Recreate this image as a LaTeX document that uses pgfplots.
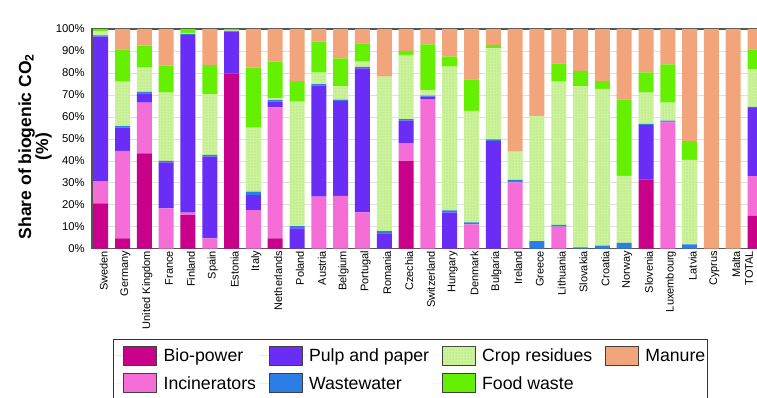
\documentclass[border=0pt]{standalone}
\usepackage{fontspec}
\setmainfont{Liberation Sans}
\usepackage{pgfplots}
\pgfplotsset{compat=1.18}
\usepackage{pgfplotstable}
\usetikzlibrary{patterns}

\pgfdeclarepatternformonly{smalldots}{\pgfqpoint{-1pt}{-1pt}}{\pgfqpoint{1pt}{1pt}}{\pgfqpoint{3pt}{3pt}}{\pgfpathcircle{\pgfqpoint{0pt}{0pt}}{0.5pt}\pgfusepath{fill}}

\definecolor{cbio}{RGB}{200,0,138}
\definecolor{cinc}{RGB}{245,110,215}
\definecolor{cpulp}{RGB}{105,45,245}
\definecolor{cww}{RGB}{45,125,230}
\definecolor{ccrop}{RGB}{204,243,155}
\definecolor{ccropdot}{RGB}{155,212,100}
\definecolor{cfood}{RGB}{100,240,0}
\definecolor{cman}{RGB}{242,165,122}
\definecolor{caxis}{RGB}{85,85,85}

\pgfplotstableread{
idx bio inc pulp ww crop food man
0 20.6 10.2 65.7 0.6 2.0 0.9 0
1 4.7 39.8 10.6 0.7 20.2 14.7 9.3
2 43.4 23.1 4.2 0.7 11.0 10.0 7.6
3 0 18.4 20.9 0.7 31.0 12.3 16.7
4 15.3 1.1 80.9 0.5 0.4 1.8 0
5 0 4.7 37.2 0.8 27.7 13.2 16.4
6 79.8 0 19.0 0.3 0.4 0.5 0
7 0 17.6 6.8 1.6 29.1 27.3 17.6
8 4.7 59.6 2.6 0.8 0.7 16.7 14.9
9 0 0 9.3 1.0 56.6 9.4 23.7
10 0 23.7 50.5 0.7 5.2 14.1 5.8
11 0 24.1 43.1 0.7 6.1 12.6 13.4
12 0 16.5 65.6 0.7 2.3 8.4 6.5
13 0 0 7.0 1.0 70.3 0 21.7
14 39.9 8.1 10.3 0.7 29.2 1.8 10.0
15 0 68.1 1.1 0.5 2.5 20.8 7.0
16 0 0 16.4 1.1 65.4 4.5 12.6
17 0 11.1 0 0.9 50.7 14.4 22.9
18 0 0 49.0 0.8 41.4 1.5 7.3
19 0 30.2 0 1.1 12.9 0 55.8
20 0 0 0 3.5 57.0 0 39.5
21 0 10.0 0 0.8 65.2 8.4 15.6
22 0 0 0 0.6 73.4 6.9 19.1
23 0 0 0 1.4 71.3 3.6 23.7
24 0 0 0 2.7 30.5 34.8 32.0
25 31.6 0 24.7 0.5 14.2 9.3 19.7
26 0 57.5 0.3 0.5 8.2 17.4 16.1
27 0 0 0 2.0 38.4 8.6 51.0
28 0 0 0 0 0 0 100
29 0 0 0 0 0 0 100
30 15.0 18.0 31.0 0.6 17.0 9.1 9.3
}\co

\begin{document}
\begin{tikzpicture}
\begin{axis}[
  ybar stacked,
  bar width=15pt,
  scale only axis,
  width=668.5pt, height=219.7pt,
  xmin=-0.4, xmax=30.25,
  ymin=0, ymax=100,
  ytick={0,10,...,100},
  yticklabels={0\%,10\%,20\%,30\%,40\%,50\%,60\%,70\%,80\%,90\%,100\%},
  xtick={0,...,30},
  xticklabels={Sweden,Germany,United Kingdom,France,Finland,Spain,Estonia,Italy,Netherlands,Poland,Austria,Belgium,Portugal,Romania,Czechia,Switzerland,Hungary,Denmark,Bulgaria,Ireland,Greece,Lithuania,Slovakia,Croatia,Norway,Slovenia,Luxembourg,Latvia,Cyprus,Malta,\raisebox{9pt}[\height][\depth]{TOTAL}},
  xticklabel style={rotate=90, anchor=east, font=\fontsize{11}{13}\selectfont, inner sep=2pt, yshift=-3pt},
  yticklabel style={font=\fontsize{11.3}{13}\selectfont, inner sep=2pt, xshift=-5pt},
  major tick length=0pt,
  ymajorgrids,
  grid style={gray!25, line width=0.6pt},
  axis line style={line width=1.2pt, caxis},
  ylabel={Share of biogenic CO\textsubscript{2}\\(\%)},
  ylabel style={font=\bfseries\fontsize{17.5}{17}\selectfont, align=center, at={(axis description cs:-0.0853,0.465)}, anchor=center},
  legend image code/.code={\path (0pt,0pt) -- (10pt,0pt); \draw[#1, draw=black!75, line width=0.8pt] (10pt,-9.5pt) rectangle (43pt,9.5pt); \path (43pt,0pt) -- (47pt,0pt);},
  transpose legend,
  legend columns=2,
  legend cell align=left,
  legend style={at={(axis description cs:0.0314,-0.411)}, anchor=north west, draw=black!80, line width=1.2pt, font=\fontsize{17.7}{19}\selectfont, row sep=8pt, column sep=1pt, inner xsep=0pt, inner ysep=6pt},
]
\addplot[fill=cbio, draw=none] table[x=idx, y=bio] {\co};
\addplot[fill=cinc, draw=none] table[x=idx, y=inc] {\co};
\addplot[fill=cpulp, draw=none] table[x=idx, y=pulp] {\co};
\addplot[fill=cww, draw=none] table[x=idx, y=ww] {\co};
\addplot[fill=ccrop, draw=none, postaction={pattern=smalldots, pattern color=ccropdot}] table[x=idx, y=crop] {\co};
\addplot[fill=cfood, draw=none] table[x=idx, y=food] {\co};
\addplot[fill=cman, draw=none] table[x=idx, y=man] {\co};
\legend{\strut Bio-power,\strut Incinerators,\strut Pulp and paper,\strut Wastewater,\strut Crop residues,\strut Food waste,\strut Manure}
\end{axis}
\pgfresetboundingbox
\path[use as bounding box] (-92pt,-149.3pt) rectangle (665pt,248.7pt);
\end{tikzpicture}
\end{document}
